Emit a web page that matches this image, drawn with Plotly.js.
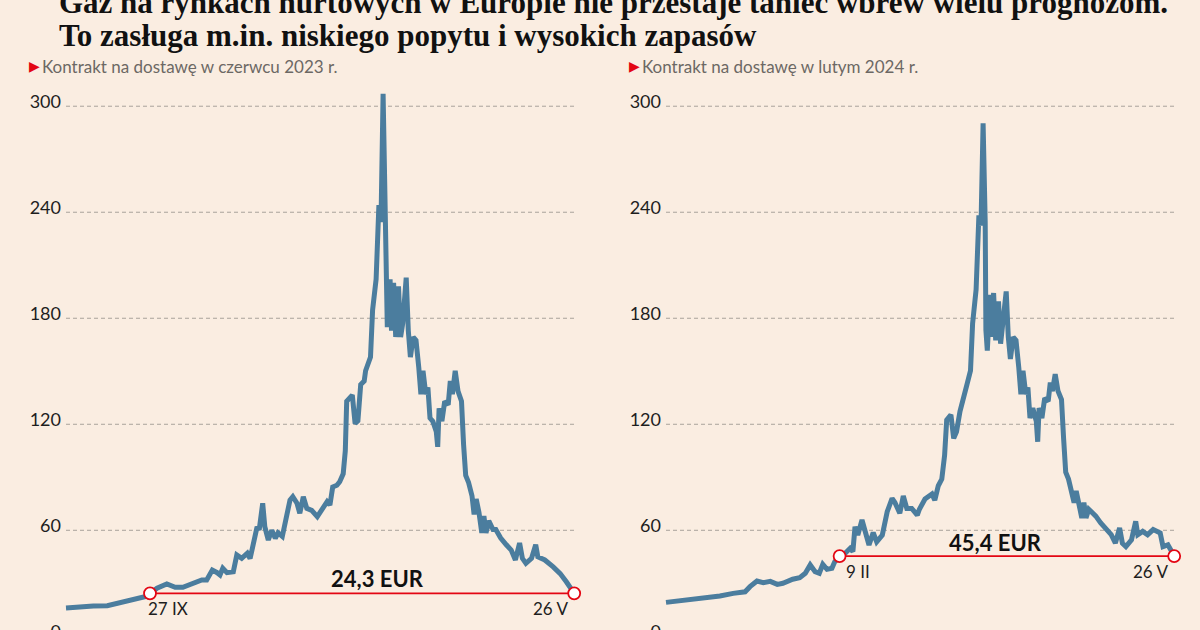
<!DOCTYPE html>
<html><head><meta charset="utf-8">
<script src="https://cdn.plot.ly/plotly-3.0.1.min.js"></script>
<style>html,body{margin:0;padding:0;background:#faede1;overflow:hidden}#chart{width:1200px;height:650px}</style>
</head><body><div id="chart"></div><script>
// Contract for delivery in June 2023 (EUR/MWh)
const datesJun23 = ['2021-05-30','2021-06-19','2021-07-08','2021-07-28','2021-08-11','2021-08-25','2021-09-13','2021-09-24','2021-09-27','2021-10-07','2021-10-21','2021-11-02','2021-11-13','2021-11-27','2021-12-10','2021-12-17','2021-12-25','2022-01-01','2022-01-05','2022-01-09','2022-01-15','2022-01-24','2022-01-29','2022-02-05','2022-02-13','2022-02-17','2022-02-21','2022-02-27','2022-03-02','2022-03-07','2022-03-10','2022-03-15','2022-03-20','2022-03-25','2022-03-29','2022-04-04','2022-04-11','2022-04-15','2022-04-19','2022-04-25','2022-04-29','2022-05-04','2022-05-09','2022-05-16','2022-05-24','2022-05-31','2022-06-07','2022-06-11','2022-06-15','2022-06-21','2022-06-25','2022-06-30','2022-07-03','2022-07-05','2022-07-13','2022-07-17','2022-07-21','2022-07-25','2022-07-30','2022-08-01','2022-08-08','2022-08-11','2022-08-16','2022-08-20','2022-08-23','2022-08-26','2022-08-29','2022-08-30','2022-09-01','2022-09-05','2022-09-07','2022-09-10','2022-09-13','2022-09-17','2022-09-20','2022-09-23','2022-09-28','2022-10-01','2022-10-04','2022-10-08','2022-10-12','2022-10-16','2022-10-19','2022-10-22','2022-10-26','2022-10-29','2022-11-01','2022-11-05','2022-11-10','2022-11-12','2022-11-14','2022-11-18','2022-11-22','2022-11-27','2022-11-30','2022-12-03','2022-12-07','2022-12-11','2022-12-16','2022-12-19','2022-12-22','2022-12-26','2022-12-31','2023-01-03','2023-01-06','2023-01-10','2023-01-14','2023-01-17','2023-01-20','2023-01-24','2023-01-30','2023-02-03','2023-02-10','2023-02-18','2023-02-25','2023-03-03','2023-03-09','2023-03-13','2023-03-18','2023-03-26','2023-04-01','2023-04-04','2023-04-14','2023-04-26','2023-05-06','2023-05-15','2023-05-26'];
const pricesJun23 = [16.0,16.8,17.1,17.3,18.7,20.0,21.5,22.8,24.3,27.2,29.6,27.7,27.7,30.0,31.9,31.9,37.5,36.0,34.7,38.5,36.0,36.5,46.0,44.1,47.0,44.0,50.7,62.0,60.2,75.3,62.0,54.5,60.0,55.5,58.5,56.5,69.6,77.1,79.0,75.3,69.6,79.0,72.4,71.3,67.7,72.0,76.2,74.3,84.5,85.5,87.5,92.0,105,133,136.5,120.5,122,142.5,144.5,150.3,158,184.7,202,244,234.5,307,242,184.7,175,202,173,200,169.4,198,169.4,177,203,173,158,169.4,167.5,152,137,150.3,137,140.8,123.5,121.7,115.8,107.2,129,121.7,133,131,144.5,137,150.3,138.8,133,108.3,91,87.2,79.5,69,77.7,70,58.5,68,58.5,65.3,60.4,60.4,55.6,51.8,48.8,43.2,52.8,44.1,41.3,44.1,51.8,45,43.2,39.3,35.5,30.7,24.3];

// Contract for delivery in February 2024 (EUR/MWh)
const datesFeb24 = ['2021-05-30','2021-06-19','2021-07-08','2021-07-28','2021-08-15','2021-09-03','2021-09-20','2021-09-27','2021-10-07','2021-10-16','2021-10-26','2021-11-05','2021-11-13','2021-11-27','2021-12-07','2021-12-15','2021-12-22','2021-12-29','2022-01-04','2022-01-09','2022-01-15','2022-01-22','2022-01-26','2022-02-02','2022-02-10','2022-02-17','2022-02-21','2022-02-24','2022-02-28','2022-03-06','2022-03-10','2022-03-16','2022-03-22','2022-03-27','2022-04-04','2022-04-11','2022-04-18','2022-04-22','2022-04-29','2022-05-04','2022-05-09','2022-05-16','2022-05-24','2022-05-27','2022-06-04','2022-06-14','2022-06-18','2022-06-23','2022-06-28','2022-07-02','2022-07-05','2022-07-11','2022-07-15','2022-07-19','2022-07-24','2022-07-26','2022-07-29','2022-08-03','2022-08-08','2022-08-11','2022-08-16','2022-08-20','2022-08-23','2022-08-26','2022-08-29','2022-08-30','2022-09-01','2022-09-05','2022-09-07','2022-09-10','2022-09-13','2022-09-17','2022-09-20','2022-09-23','2022-09-28','2022-10-01','2022-10-04','2022-10-08','2022-10-12','2022-10-16','2022-10-19','2022-10-22','2022-10-26','2022-10-29','2022-11-01','2022-11-05','2022-11-10','2022-11-12','2022-11-14','2022-11-18','2022-11-22','2022-11-27','2022-11-30','2022-12-03','2022-12-07','2022-12-11','2022-12-16','2022-12-19','2022-12-22','2022-12-26','2022-12-31','2023-01-03','2023-01-06','2023-01-10','2023-01-14','2023-01-17','2023-01-20','2023-01-24','2023-01-30','2023-02-03','2023-02-10','2023-02-18','2023-02-25','2023-03-03','2023-03-09','2023-03-13','2023-03-18','2023-03-26','2023-04-01','2023-04-04','2023-04-11','2023-04-18','2023-04-26','2023-05-06','2023-05-10','2023-05-17','2023-05-26'];
const pricesFeb24 = [19.2,20.1,20.5,21.5,22.8,24.3,25.2,28.1,31.3,30.4,31.1,29.4,30.0,32.3,33.2,35.7,40.4,36.6,35.7,40.7,37.9,38.5,42.2,45.4,47.0,49.8,48.0,62.0,57.3,65.8,59.2,51.7,58.7,53.5,57.3,70.5,78.1,75.8,69.6,79.4,72.4,72.4,68.6,71.9,77.7,80.5,77.1,85.2,89,102.4,122.5,125.4,112,115.8,127.3,130,136,142.6,150.3,177,196.2,238.3,232.5,290.3,234.5,173.3,161.7,193.3,169.4,194.3,167.5,189.5,165.6,177,195.2,169.4,157,169.4,167.5,152,137,150.3,137,140.8,123.5,129.2,121.6,110.1,129.2,123.5,134.8,133,143.6,138.8,148.4,138.8,134,112,92.9,89,81.4,75.7,82.3,73.7,67,75.7,67,71.9,70,68,64.2,60.4,57.5,52.7,61.3,52.7,50.8,54.6,65.1,57.5,59.4,57.5,60.4,58.5,50.8,51.8,45.4];

const tickValues = [0, 60, 120, 180, 240, 300];
const tickLabels = ['0', '60', '120', '180', '240', '300'];

const refDatesJun23 = ['2021-09-27', '2023-05-26'];
const refValueJun23 = 24.3;
const refLabelsJun23 = ['27 IX', '26 V'];
const refTextJun23 = '24,3 EUR';
const refTextDateJun23 = '2022-08-18';

const refDatesFeb24 = ['2022-02-02', '2023-05-26'];
const refValueFeb24 = 45.4;
const refLabelsFeb24 = ['9 II', '26 V'];
const refTextFeb24 = '45,4 EUR';
const refTextDateFeb24 = '2022-09-13';

const titleLine1 = 'Gaz na rynkach hurtowych w Europie nie przestaje tanieć wbrew wielu prognozom.';
const titleLine2 = 'To zasługa m.in. niskiego popytu i wysokich zapasów';
const subtitles = ['Kontrakt na dostawę w czerwcu 2023 r.', 'Kontrakt na dostawę w lutym 2024 r.'];

const BG = '#faede1', BLUE = '#4b7d9e', RED = '#e30613', GRID = '#a9a39b', TXT = '#1e1e1e';
const W = 1200, H = 650;
const PX = px => px / W, PY = py => (H - py) / H;
const gridStart = '2021-05-30', gridEnd = '2023-05-26';

function panel(xa, ya, dates, prices, refDates, refValue) {
  return [
    {x: dates, y: prices, xaxis: xa, yaxis: ya, mode: 'lines', type: 'scatter',
     line: {color: BLUE, width: 5, shape: 'linear'}, hoverinfo: 'skip'},
    {x: refDates, y: refDates.map(() => refValue), xaxis: xa, yaxis: ya, mode: 'lines+markers', type: 'scatter',
     line: {color: RED, width: 1.6}, cliponaxis: false,
     marker: {size: 12, color: '#ffffff', line: {color: RED, width: 1.8}}, hoverinfo: 'skip'}
  ];
}

const data = [
  ...panel('x', 'y', datesJun23, pricesJun23, refDatesJun23, refValueJun23),
  ...panel('x2', 'y2', datesFeb24, pricesFeb24, refDatesFeb24, refValueFeb24)
];

const shapes = [];
[['x', 'y'], ['x2', 'y2']].forEach(([xa, ya]) => {
  tickValues.forEach(v => shapes.push({type: 'line', xref: xa, yref: ya, x0: gridStart, x1: gridEnd, y0: v, y1: v,
    layer: 'below', line: {color: GRID, width: 1, dash: '4px,3px'}}));
});

const lato = (size, color, weight) => ({family: 'Lato, sans-serif', size: size, color: color || TXT, weight: weight || 400});

const annotations = [
  {xref: 'paper', yref: 'paper', x: PX(57), y: PY(2), xanchor: 'left', yanchor: 'middle', showarrow: false,
   text: titleLine1, font: {family: 'Liberation Serif, serif', size: 31, color: '#111', weight: 700}},
  {xref: 'paper', yref: 'paper', x: PX(57), y: PY(36), xanchor: 'left', yanchor: 'middle', showarrow: false,
   text: titleLine2, font: {family: 'Liberation Serif, serif', size: 31, color: '#111', weight: 700}},
  {xref: 'paper', yref: 'paper', x: PX(27), y: PY(66), xanchor: 'left', yanchor: 'middle', showarrow: false,
   text: '▶', font: {family: 'DejaVu Sans', size: 14, color: RED}},
  {xref: 'paper', yref: 'paper', x: PX(40), y: PY(66), xanchor: 'left', yanchor: 'middle', showarrow: false,
   text: subtitles[0], font: lato(17, '#6c6864')},
  {xref: 'paper', yref: 'paper', x: PX(627), y: PY(66), xanchor: 'left', yanchor: 'middle', showarrow: false,
   text: '▶', font: {family: 'DejaVu Sans', size: 14, color: RED}},
  {xref: 'paper', yref: 'paper', x: PX(640), y: PY(66), xanchor: 'left', yanchor: 'middle', showarrow: false,
   text: subtitles[1], font: lato(17, '#6c6864')},
  // left panel
  {xref: 'x', yref: 'y', x: refDatesJun23[0], y: refValueJun23, xanchor: 'left', yanchor: 'middle', xshift: -4, yshift: -15,
   showarrow: false, text: refLabelsJun23[0], font: lato(17)},
  {xref: 'x', yref: 'y', x: refDatesJun23[1], y: refValueJun23, xanchor: 'right', yanchor: 'middle', xshift: -4, yshift: -15,
   showarrow: false, text: refLabelsJun23[1], font: lato(17)},
  {xref: 'x', yref: 'y', x: refTextDateJun23, y: refValueJun23, xanchor: 'center', yanchor: 'middle', yshift: 15,
   showarrow: false, text: refTextJun23, font: lato(22, '#111', 700)},
  // right panel
  {xref: 'x2', yref: 'y2', x: refDatesFeb24[0], y: refValueFeb24, xanchor: 'left', yanchor: 'middle', xshift: 4, yshift: -15,
   showarrow: false, text: refLabelsFeb24[0], font: lato(17)},
  {xref: 'x2', yref: 'y2', x: refDatesFeb24[1], y: refValueFeb24, xanchor: 'right', yanchor: 'middle', xshift: -4, yshift: -15,
   showarrow: false, text: refLabelsFeb24[1], font: lato(17)},
  {xref: 'x2', yref: 'y2', x: refTextDateFeb24, y: refValueFeb24, xanchor: 'center', yanchor: 'middle', yshift: 14,
   showarrow: false, text: refTextFeb24, font: lato(22, '#111', 700)}
];

const yBase = {range: [-7.75, 320.5], domain: [0, PY(70)], anchor: 'free', tickmode: 'array',
  tickvals: tickValues, ticktext: tickLabels, showgrid: false, zeroline: false, showline: false, ticks: '',
  tickfont: lato(18), ticklabelshift: -5, ticklabelstandoff: 5, fixedrange: true};
const xBase = {type: 'date', range: ['2021-05-16', '2023-06-09'], visible: false, showgrid: false, zeroline: false, fixedrange: true};

const layout = {
  width: W, height: H, margin: {l: 0, r: 0, t: 0, b: 0},
  paper_bgcolor: BG, plot_bgcolor: BG, showlegend: false,
  xaxis: Object.assign({}, xBase, {domain: [PX(56.2), PX(584)], anchor: 'y'}),
  yaxis: Object.assign({}, yBase, {position: PX(66)}),
  xaxis2: Object.assign({}, xBase, {domain: [PX(656.2), PX(1184)], anchor: 'y2'}),
  yaxis2: Object.assign({}, yBase, {position: PX(666)}),
  shapes: shapes, annotations: annotations
};

Plotly.newPlot('chart', data, layout, {staticPlot: true, displayModeBar: false});
</script></body></html>
